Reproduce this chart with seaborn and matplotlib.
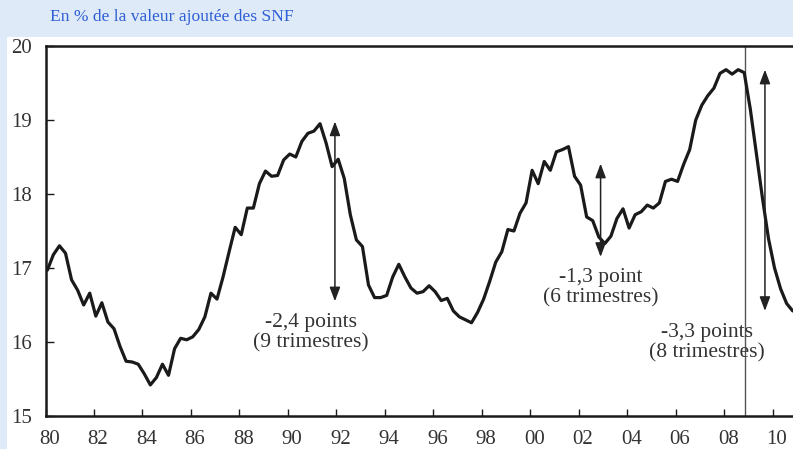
import matplotlib
matplotlib.use("Agg")
import matplotlib.pyplot as plt
import matplotlib.transforms as mtransforms
from matplotlib.patches import Rectangle
import numpy as np
import pandas as pd
import seaborn as sns

# taux de marge des SNF, trimestriel, 1980T1 -> 2010T4
taux_marge = [
    16.97, 17.18, 17.30, 17.20, 16.84, 16.70, 16.50, 16.66,
    16.35, 16.53, 16.27, 16.18, 15.94, 15.74, 15.73, 15.70,
    15.57, 15.42, 15.52, 15.70, 15.55, 15.91, 16.05, 16.03,
    16.07, 16.17, 16.34, 16.66, 16.58, 16.88, 17.22, 17.55,
    17.45, 17.81, 17.81, 18.14, 18.31, 18.24, 18.25, 18.46,
    18.54, 18.50, 18.71, 18.82, 18.85, 18.95, 18.69, 18.37,
    18.47, 18.21, 17.72, 17.38, 17.29, 16.77, 16.60, 16.60,
    16.63, 16.88, 17.05, 16.88, 16.73, 16.66, 16.68, 16.76,
    16.68, 16.56, 16.59, 16.42, 16.34, 16.30, 16.26, 16.40,
    16.58, 16.82, 17.08, 17.22, 17.52, 17.50, 17.74, 17.88,
    18.32, 18.14, 18.44, 18.32, 18.57, 18.60, 18.64, 18.24,
    18.12, 17.69, 17.64, 17.42, 17.33, 17.43, 17.67, 17.80,
    17.54, 17.72, 17.76, 17.85, 17.81, 17.88, 18.17, 18.20,
    18.17, 18.40, 18.60, 19.00, 19.20, 19.33, 19.43, 19.63,
    19.68, 19.62, 19.68, 19.64, 19.15, 18.55, 17.95, 17.40,
    17.00, 16.72, 16.52, 16.42,
]
annees = [1980 + (i + 0.3) / 4 for i in range(len(taux_marge))]

xticks = list(range(1980, 2011, 2))
xtick_labels = [f"{a % 100:02d}" for a in xticks]
yticks = [15, 16, 17, 18, 19, 20]

# fleches des baisses : x, bas, haut
fleches_x = [1991.94, 2002.9, 2009.68]
fleches_bas = [16.55, 17.15, 16.42]
fleches_haut = [18.98, 18.41, 19.68]
textes = ["-2,4 points\n(9 trimestres)", "-1,3 point\n(6 trimestres)",
          "-3,3 points\n(8 trimestres)"]
textes_x = [1990.95, 2002.9, 2007.3]
textes_y = [16.12, 16.73, 15.99]
date_crise = 2008.86

sns.set_theme(style="white")
plt.rcParams['font.family'] = ['Liberation Serif', 'DejaVu Serif']

W, H = 793, 449
fig = plt.figure(figsize=(W / 100, H / 100), dpi=100, facecolor="#dfeaf8")
fig.patches.append(Rectangle((7 / W, 0), 1, (H - 37) / H, transform=fig.transFigure,
                             facecolor="white", edgecolor="none", zorder=-10))
ax = fig.add_axes([45.5 / W, 33 / H, (W - 45.5) / W, 370 / H])
ax.set_facecolor("white")

df = pd.DataFrame({"annee": annees, "taux": taux_marge})
sns.lineplot(data=df, x="annee", y="taux", ax=ax, color="#1a1a1a", linewidth=2.3)

ax.axvline(date_crise, color="#555555", linewidth=1.0, zorder=1)

for x, y0, y1 in zip(fleches_x, fleches_bas, fleches_haut):
    ax.annotate("", xy=(x, y1), xytext=(x, y0),
                arrowprops=dict(arrowstyle="<|-|>,head_length=0.85,head_width=0.32",
                                color="#222222", lw=1.1, shrinkA=0, shrinkB=0,
                                mutation_scale=10))

for t, x, y in zip(textes, textes_x, textes_y):
    ax.text(x, y, t, ha="center", va="center", fontsize=15.5, color="#333333",
            linespacing=1.1)

ax.set_xlim(1980, 1980 + (W - 45.5) / 24.24)
ax.set_ylim(15, 20)
ax.set_xticks(xticks)
ax.set_xticklabels(xtick_labels)
ax.set_yticks(yticks)
ax.set_xlabel("")
ax.set_ylabel("")

for s in ["left", "bottom", "top"]:
    ax.spines[s].set_visible(True)
    ax.spines[s].set_color("#1a1a1a")
    ax.spines[s].set_linewidth(1.8)
ax.spines["right"].set_visible(False)

ax.tick_params(axis="both", direction="in", colors="#1a1a1a", labelcolor="#333333",
               labelsize=15, width=1.0)
ax.tick_params(axis="y", length=6, pad=10, left=True)
ax.tick_params(axis="x", length=5, pad=10, bottom=True)

offset = mtransforms.ScaledTranslation(0.04, 0, fig.dpi_scale_trans)
for lab in ax.get_xticklabels():
    lab.set_transform(lab.get_transform() + offset)

fig.text(50 / W, 1 - 17 / H, "En % de la valeur ajoutée des SNF", ha="left",
         va="center", fontsize=12.6, color="#2f5fd6")

fig.savefig("out.png", dpi=100, facecolor=fig.get_facecolor())
